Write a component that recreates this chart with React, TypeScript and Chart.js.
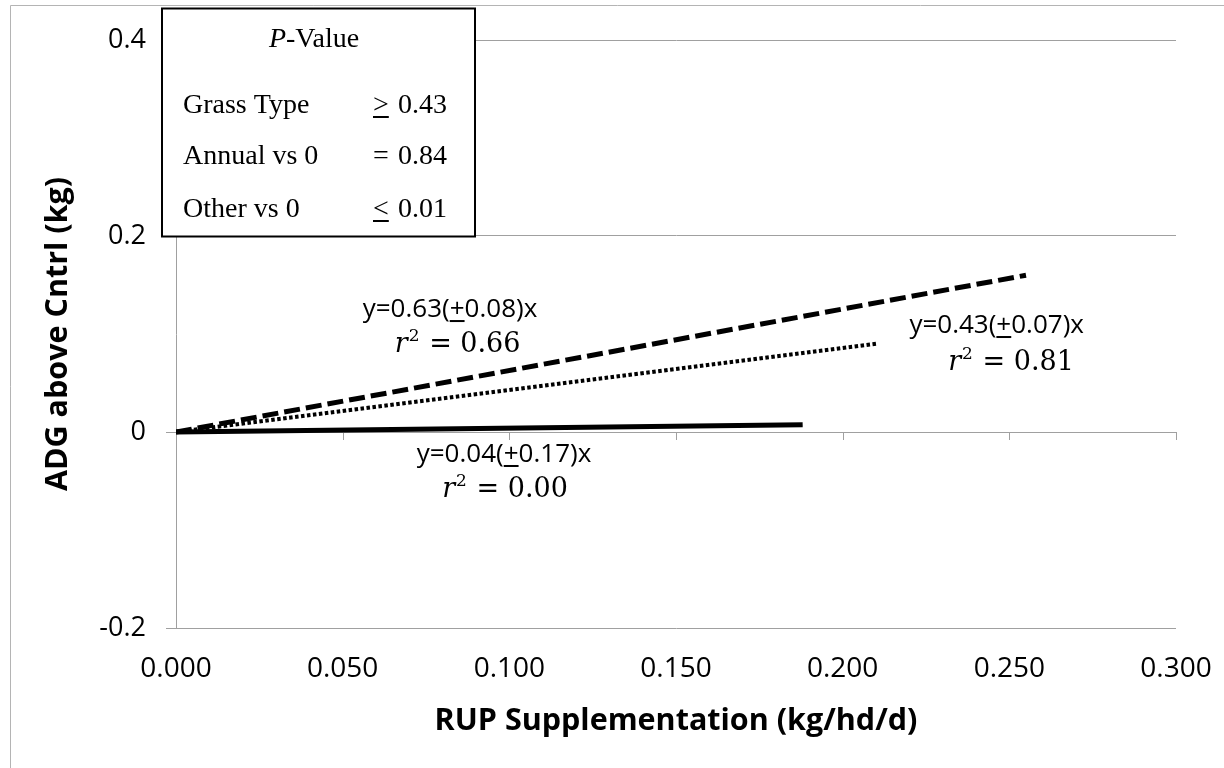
import React, { useEffect, useRef } from "react";
import { Chart, registerables } from "chart.js";

Chart.register(...registerables);

// ---- data ----
const otherX = [0, 0.255];
const otherY = [0, 0.16];
const perennialX = [0, 0.21];
const perennialY = [0, 0.09];
const annualX = [0, 0.188];
const annualY = [0, 0.0075];

const xTickMin = 0;
const xTickMax = 0.3;
const xTickStep = 0.05;
const yTickMin = -0.2;
const yTickMax = 0.4;
const yTickStep = 0.2;

const xTitle = "RUP Supplementation (kg/hd/d)";
const yTitle = "ADG above Cntrl (kg)";

// equation annotations: [pre, underlined, post], r2 text, anchor data coords
const eqTexts = [
  { parts: ["y=0.63(", "+", "0.08)x"], r2: "0.66", x1: 0.0822, y1: 0.1173, x2: 0.0845, y2: 0.0816 },
  { parts: ["y=0.43(", "+", "0.07)x"], r2: "0.81", x1: 0.2462, y1: 0.101, x2: 0.2505, y2: 0.0633 },
  { parts: ["y=0.04(", "+", "0.17)x"], r2: "0.00", x1: 0.0984, y1: -0.0306, x2: 0.0987, y2: -0.0663 },
];

// P-value box rows
const pRowLabels = ["Grass Type", "Annual vs 0", "Other vs 0"];
const pRowSymbols = [">", "=", "<"];
const pRowUnderline = [true, false, true];
const pRowValues = ["0.43", "0.84", "0.01"];

const GRID = "#a0a0a0";
const SANS = '"Open Sans", sans-serif';

function toPts(xs: number[], ys: number[]) {
  return xs.map((x, i) => ({ x, y: ys[i] }));
}

const annotationPlugin = {
  id: "annot",
  beforeDatasetsDraw(chart: any) {
    const { ctx, scales } = chart;
    const xs = scales.x;
    const ys = scales.y;
    const y0 = ys.getPixelForValue(0);
    ctx.save();
    ctx.strokeStyle = GRID;
    ctx.lineWidth = 1;
    for (let v = xTickMin; v <= xTickMax + 1e-9; v += xTickStep) {
      const px = Math.round(xs.getPixelForValue(v)) + 0.5;
      ctx.beginPath();
      ctx.moveTo(px, y0);
      ctx.lineTo(px, y0 + 8);
      ctx.stroke();
    }
    ctx.restore();
  },
  afterDraw(chart: any) {
    const { ctx, scales } = chart;
    const xs = scales.x;
    const ys = scales.y;
    ctx.save();
    // outer frame
    ctx.strokeStyle = "#b4b4b4";
    ctx.lineWidth = 1;
    ctx.beginPath();
    ctx.moveTo(10.5, 768);
    ctx.lineTo(10.5, 5.5);
    ctx.lineTo(1224, 5.5);
    ctx.stroke();

    // equations
    ctx.fillStyle = "#000";
    ctx.textBaseline = "alphabetic";
    ctx.textAlign = "left";
    for (const e of eqTexts) {
      ctx.font = `26px ${SANS}`;
      const w0 = ctx.measureText(e.parts[0]).width;
      const w1 = ctx.measureText(e.parts[1]).width;
      const w2 = ctx.measureText(e.parts[2]).width;
      const cx = xs.getPixelForValue(e.x1);
      const by = ys.getPixelForValue(e.y1);
      let sx = cx - (w0 + w1 + w2) / 2;
      ctx.fillText(e.parts[0], sx, by);
      ctx.fillText(e.parts[1], sx + w0, by);
      ctx.fillRect(sx + w0, by + 3, w1, 2);
      ctx.fillText(e.parts[2], sx + w0 + w1, by);

      // r^2 line
      const fr = 'italic 27px "DejaVu Serif", serif';
      const fs = '17px "DejaVu Serif", serif';
      const fn = '27px "DejaVu Serif", serif';
      const rest = " = " + e.r2;
      ctx.font = fr;
      const wr = ctx.measureText("r").width;
      ctx.font = fs;
      const ws = ctx.measureText("2").width;
      ctx.font = fn;
      const wn = ctx.measureText(rest).width;
      const cx2 = xs.getPixelForValue(e.x2);
      const by2 = ys.getPixelForValue(e.y2);
      let s2 = cx2 - (wr + ws + 2 + wn) / 2;
      ctx.font = fr;
      ctx.fillText("r", s2, by2);
      ctx.font = fs;
      ctx.fillText("2", s2 + wr + 1, by2 - 11);
      ctx.font = fn;
      ctx.fillText(rest, s2 + wr + ws + 2, by2);
    }

    // P-value box
    ctx.fillStyle = "#fff";
    ctx.fillRect(162, 8.5, 313, 228);
    ctx.strokeStyle = "#000";
    ctx.lineWidth = 2;
    ctx.strokeRect(162, 8.5, 313, 228);
    ctx.fillStyle = "#000";
    const serif = '"Liberation Serif", "Times New Roman", serif';
    ctx.font = `italic 28px ${serif}`;
    const wp = ctx.measureText("P").width;
    ctx.font = `28px ${serif}`;
    const wv = ctx.measureText("-Value").width;
    const pStart = 314 - (wp + wv) / 2;
    ctx.font = `italic 28px ${serif}`;
    ctx.fillText("P", pStart, 47);
    ctx.font = `28px ${serif}`;
    ctx.fillText("-Value", pStart + wp, 47);
    const baselines = [113, 164, 217];
    pRowLabels.forEach((lab, i) => {
      const b = baselines[i];
      ctx.textAlign = "left";
      ctx.fillText(lab, 183, b);
      ctx.fillText(pRowSymbols[i], 373, b);
      const wsym = ctx.measureText(pRowSymbols[i]).width;
      if (pRowUnderline[i]) ctx.fillRect(373, b + 3, wsym, 2);
      ctx.textAlign = "right";
      ctx.fillText(pRowValues[i], 447, b);
    });
    ctx.restore();
  },
};

export default function App() {
  const ref = useRef<HTMLCanvasElement | null>(null);
  useEffect(() => {
    if (!ref.current) return;
    const chart = new Chart(ref.current, {
      type: "scatter",
      data: {
        datasets: [
          {
            label: "Other",
            data: toPts(otherX, otherY),
            showLine: true,
            borderColor: "#000",
            borderWidth: 5,
            borderDash: [16, 6],
            pointRadius: 0,
          },
          {
            label: "Perennial",
            data: toPts(perennialX, perennialY),
            showLine: true,
            borderColor: "#000",
            borderWidth: 4,
            borderDash: [3.5, 2.5],
            pointRadius: 0,
          },
          {
            label: "Annual",
            data: toPts(annualX, annualY),
            showLine: true,
            borderColor: "#000",
            borderWidth: 5,
            pointRadius: 0,
          },
        ],
      },
      options: {
        responsive: false,
        animation: false,
        devicePixelRatio: 1,
        layout: { padding: { left: 0, right: 48, top: 40, bottom: 0 } },
        plugins: { legend: { display: false }, tooltip: { enabled: false } },
        scales: {
          x: {
            type: "linear",
            min: xTickMin,
            max: xTickMax,
            ticks: {
              stepSize: xTickStep,
              color: "#000",
              font: { family: SANS, size: 28 },
              padding: 24,
              maxRotation: 0,
              callback: (v: any) => Number(v).toFixed(3),
            },
            grid: { display: false, drawTicks: false },
            border: { display: false },
            title: {
              display: true,
              text: xTitle,
              color: "#000",
              font: { family: SANS, size: 30.5, weight: "bold" },
              padding: { top: 0, bottom: 28 },
            },
            afterFit: (s: any) => {
              s.height = 140;
              s.paddingLeft = 0;
              s.paddingRight = 0;
            },
          },
          y: {
            type: "linear",
            min: yTickMin,
            max: yTickMax,
            ticks: {
              stepSize: yTickStep,
              color: "#000",
              font: { family: SANS, size: 27 },
              padding: 20,
              callback: (v: any) => (Math.abs(Number(v)) < 1e-9 ? "0" : Number(v).toFixed(1)),
            },
            grid: { color: GRID, lineWidth: 1, tickLength: 10, drawTicks: true },
            border: { display: true, color: GRID, width: 1 },
            title: {
              display: true,
              text: yTitle,
              color: "#000",
              font: { family: SANS, size: 30.5, weight: "bold" },
              padding: { top: 40, bottom: 0 },
            },
            afterFit: (s: any) => {
              s.width = 176;
              s.paddingTop = 0;
              s.paddingBottom = 0;
            },
          },
        },
      },
      plugins: [annotationPlugin],
    });
    return () => chart.destroy();
  }, []);
  return (
    <div style={{ position: "fixed", left: 0, top: 0, width: 1224, height: 768, background: "#fff" }}>
      <canvas ref={ref} width={1224} height={768} style={{ display: "block" }} />
    </div>
  );
}
